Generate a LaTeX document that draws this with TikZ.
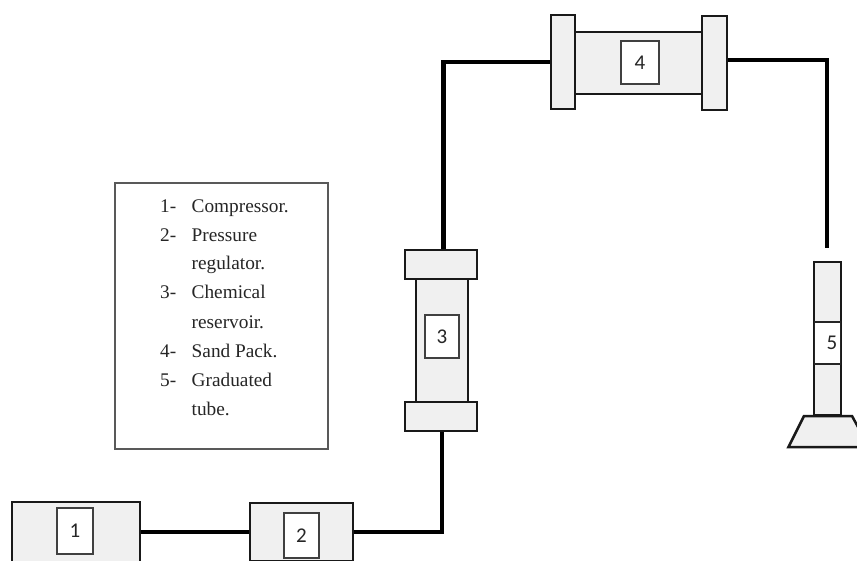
\documentclass[tikz,border=0pt]{standalone}
\usepackage{fontspec}
\setmainfont{Liberation Serif}
\newfontfamily\numfont{Carlito}
\tikzset{
  part/.style={draw=black!90,line width=2.2pt,fill=black!6,inner sep=0pt,minimum width=#1},
  label box/.style={draw=black!75,line width=1.2pt,fill=white,inner sep=0pt,font=\numfont\fontsize{21}{21}\selectfont,text=black!85},
  pipe/.style={draw=black,line width=4.6pt,line join=miter},
  thin pipe/.style={draw=black,line width=4.2pt},
  legend/.style={draw=black!65,line width=1.2pt,fill=white,inner sep=0pt},
  item/.style={anchor=base west,inner sep=0pt,font=\fontsize{19.3}{19.3}\selectfont,text=black!85}
}
\begin{document}
\begin{tikzpicture}[x=1pt,y=-1pt]
\useasboundingbox (0,0) rectangle (857,560);
\clip (0,0) rectangle (857,560);
% compressor and regulator
\node[part=128pt,minimum height=60pt] (n1) at (76,532) {};
\node[part=103pt,minimum height=58pt] (n2) at (301.5,532) {};
\node[label box,minimum width=36pt,minimum height=46pt] (l1) at (75,531) {1};
\node[label box,minimum width=35pt,minimum height=45pt] (l2) at (301.5,535.5) {2};
% reservoir
\node[part=52pt,minimum height=123pt] (n3) at (442,340.5) {};
\node[part=72pt,minimum height=29pt] (f3a) at (441,264.5) {};
\node[part=72pt,minimum height=29pt] (f3b) at (441,416.5) {};
\node[label box,minimum width=34pt,minimum height=43pt] (l3) at (442,336.5) {3};
% sand pack
\node[part=127pt,minimum height=62pt] (n4) at (638.5,63) {};
\node[part=24pt,minimum height=94pt] (f4a) at (563,62) {};
\node[part=25pt,minimum height=94pt] (f4b) at (714.5,63) {};
\node[label box,minimum width=38pt,minimum height=43pt] (l4) at (640,62.5) {4};
% graduated tube
\node[part=27pt,minimum height=153pt] (n5) at (827.5,338.5) {};
\node[draw=black!85,line width=1.2pt,fill=white,inner sep=0pt,minimum width=26pt,minimum height=42pt,font=\numfont\fontsize{21}{21}\selectfont,text=black!85] (l5) at (827.5,343) {\hspace*{9pt}5};
\coordinate (b1) at (804,416);
\coordinate (b2) at (852,416);
\coordinate (b3) at (869,447);
\coordinate (b4) at (788.5,447);
\draw[draw=black!90,line width=2.5pt,fill=black!6,line join=miter] (b1) -- (b2) -- (b3) -- (b4) -- cycle;
% connectors
\coordinate (c1) at (442,532);
\coordinate (c2) at (443.5,62);
\coordinate (c3) at (827,60);
\coordinate (c4) at (827,248);
\draw[pipe] (n1.east) -- (n2.west);
\draw[pipe] (n2.east) -- (c1) -- (c1 |- f3b.south);
\draw[thin pipe,line cap=butt] (c2 |- f3a.north) -- (c2) -- (f4a.west |- c2);
\draw[thin pipe] (f4b.east |- c3) -- (c3) -- (c4);
% legend
\node[legend,minimum width=213pt,minimum height=266pt] (key) at (221.5,316) {};
\node[item] (k1a) at (160,212) {1-};
\node[item] (k1b) at (191.5,212) {Compressor.};
\node[item] (k2a) at (160,241) {2-};
\node[item] (k2b) at (191.5,241) {Pressure};
\node[item] (k2c) at (191.5,269.5) {regulator.};
\node[item] (k3a) at (160,298.5) {3-};
\node[item] (k3b) at (191.5,298.5) {Chemical};
\node[item] (k3c) at (191.5,328) {reservoir.};
\node[item] (k4a) at (160,357) {4-};
\node[item] (k4b) at (191.5,357) {Sand Pack.};
\node[item] (k5a) at (160,386) {5-};
\node[item] (k5b) at (191.5,386) {Graduated};
\node[item] (k5c) at (191.5,415) {tube.};
\end{tikzpicture}
\end{document}
